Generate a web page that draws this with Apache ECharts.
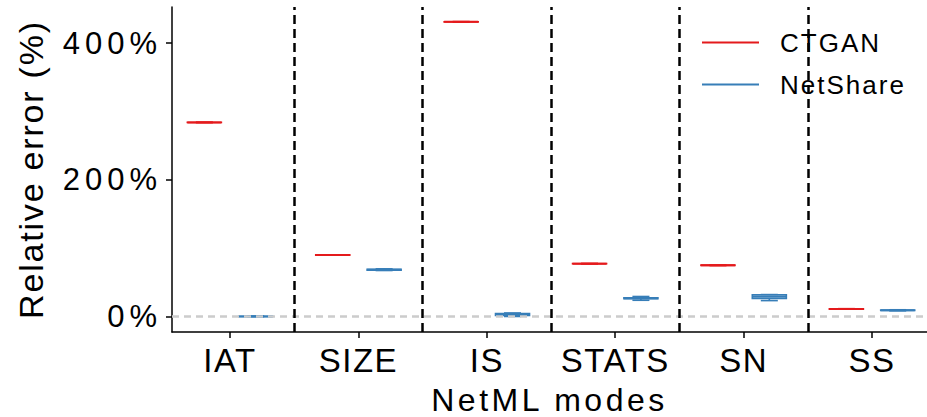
<!DOCTYPE html>
<html>
<head>
<meta charset="utf-8">
<script src="https://cdn.jsdelivr.net/npm/echarts@6/dist/echarts.min.js"></script>
<style>
html,body{margin:0;padding:0;background:#fff;}
#chart{width:927px;height:417px;}
/* wide glyph spacing as in the reference rendering */
#chart text[style*="33px"]{letter-spacing:1.5px;}
#chart text[style*="31px"]{letter-spacing:5px;}
#chart text[style*="32px"]{letter-spacing:3.5px;}
#chart text[style*="34px"]{letter-spacing:1.8px;}
#chart text[style*="26px"]{letter-spacing:2px;}
</style>
</head>
<body>
<div id="chart"></div>
<script>
// ---- data ----
const categories = ['IAT', 'SIZE', 'IS', 'STATS', 'SN', 'SS'];
const seriesNames = ['CTGAN', 'NetShare'];
// [min, Q1, median, Q3, max] of relative error (%) per mode
const ctganBox = [
  [283.6, 283.8, 284.0, 284.2, 284.4],
  [89.9, 90.0, 90.2, 90.4, 90.5],
  [430.6, 430.8, 431.0, 431.2, 431.4],
  [77.1, 77.3, 77.5, 77.7, 77.9],
  [74.7, 74.9, 75.1, 75.3, 75.5],
  [10.9, 11.1, 11.3, 11.5, 11.7]
];
const netshareBox = [
  [0.0, 0.2, 0.4, 0.7, 1.0],
  [67.5, 68.1, 68.7, 69.4, 69.9],
  [0.3, 1.8, 3.0, 4.6, 5.4],
  [24.0, 26.2, 26.8, 27.6, 29.5],
  [23.5, 26.6, 29.0, 31.8, 32.3],
  [8.6, 9.0, 9.4, 9.8, 10.1]
];
const yTicks = [0, 200, 400];
const dividers = [0.5, 1.5, 2.5, 3.5, 4.5];

// ---- style ----
const FONT = '"Liberation Sans", Arial, sans-serif';
const RED = '#E41A1C';
const BLUE = '#377EB8';
const OFFSET = 0.2;
const BOX_W = 0.265;

function toRows(box) {
  return box.map((b, i) => [i].concat(b));
}

function makeRender(offset, color) {
  return function (params, api) {
    const x = api.value(0) + offset;
    const mn = api.value(1), q1 = api.value(2), md = api.value(3), q3 = api.value(4), mx = api.value(5);
    const bw = api.size([BOX_W, 0])[0];
    const pMin = api.coord([x, mn]);
    const pQ1 = api.coord([x, q1]);
    const pMd = api.coord([x, md]);
    const pQ3 = api.coord([x, q3]);
    const pMx = api.coord([x, mx]);
    const cx = pMd[0];
    const lw = 1.6;
    return {
      type: 'group',
      children: [
        { type: 'line', shape: { x1: cx, y1: pQ1[1], x2: cx, y2: pMin[1] }, style: { stroke: color, lineWidth: lw } },
        { type: 'line', shape: { x1: cx, y1: pQ3[1], x2: cx, y2: pMx[1] }, style: { stroke: color, lineWidth: lw } },
        { type: 'line', shape: { x1: cx - bw / 4, y1: pMin[1], x2: cx + bw / 4, y2: pMin[1] }, style: { stroke: color, lineWidth: lw } },
        { type: 'line', shape: { x1: cx - bw / 4, y1: pMx[1], x2: cx + bw / 4, y2: pMx[1] }, style: { stroke: color, lineWidth: lw } },
        { type: 'rect', shape: { x: cx - bw / 2, y: pQ3[1], width: bw, height: pQ1[1] - pQ3[1] },
          style: { fill: 'rgba(255,255,255,0.6)', stroke: color, lineWidth: lw } },
        { type: 'line', shape: { x1: cx - bw / 2, y1: pMd[1], x2: cx + bw / 2, y2: pMd[1] }, style: { stroke: color, lineWidth: 2 } }
      ]
    };
  };
}

const chart = echarts.init(document.getElementById('chart'), null, { renderer: 'svg' });
const axisText = { color: '#000', fontFamily: FONT };

chart.setOption({
  animation: false,
  backgroundColor: '#fff',
  grid: { left: 172, right: 0, top: 7, bottom: 85, outerBoundsMode: 'none', containLabel: false },
  legend: {
    orient: 'vertical',
    left: 702,
    top: 29,
    padding: 0,
    icon: 'rect',
    itemWidth: 57,
    itemHeight: 2,
    itemGap: 15,
    data: seriesNames,
    textStyle: { fontSize: 26, fontFamily: FONT, color: '#000', padding: [0, 0, 0, 16], lineHeight: 27 }
  },
  xAxis: {
    type: 'value',
    min: -0.452,
    max: 5.428,
    splitLine: { show: false },
    axisLine: { onZero: false, lineStyle: { color: '#000', width: 1.5 } },
    axisTick: { customValues: [0, 1, 2, 3, 4, 5], length: 6, lineStyle: { color: '#000', width: 1.5 } },
    axisLabel: Object.assign({ customValues: [0, 1, 2, 3, 4, 5], formatter: v => categories[Math.round(v)], fontSize: 33, margin: 12 }, axisText),
    name: 'NetML modes',
    nameLocation: 'middle',
    nameGap: 56,
    nameTextStyle: Object.assign({ fontSize: 32, lineHeight: 24 }, axisText)
  },
  yAxis: {
    type: 'value',
    min: -22.4,
    max: 452.7,
    splitLine: { show: false },
    axisLine: { show: true, onZero: false, lineStyle: { color: '#000', width: 1.5 } },
    axisTick: { show: true, customValues: yTicks, length: 6, lineStyle: { color: '#000', width: 1.5 } },
    axisLabel: Object.assign({ customValues: yTicks, formatter: v => v + '%', fontSize: 31, margin: 10 }, axisText),
    name: 'Relative error (%)',
    nameLocation: 'middle',
    nameGap: 124,
    nameTextStyle: Object.assign({ fontSize: 34 }, axisText)
  },
  series: [
    {
      type: 'line',
      data: [],
      silent: true,
      markLine: {
        silent: true,
        symbol: ['none', 'none'],
        label: { show: false },
        lineStyle: { color: '#cccccc', width: 2.5, type: [7, 5] },
        data: [{ yAxis: 0 }]
      }
    },
    {
      name: 'CTGAN',
      type: 'custom',
      itemStyle: { color: RED },
      encode: { x: 0, y: [1, 2, 3, 4, 5] },
      data: toRows(ctganBox),
      renderItem: makeRender(-OFFSET, RED)
    },
    {
      name: 'NetShare',
      type: 'custom',
      itemStyle: { color: BLUE },
      encode: { x: 0, y: [1, 2, 3, 4, 5] },
      data: toRows(netshareBox),
      renderItem: makeRender(OFFSET, BLUE)
    },
    {
      type: 'line',
      data: [],
      silent: true,
      z: 10,
      markLine: {
        silent: true,
        z: 10,
        symbol: ['none', 'none'],
        label: { show: false },
        lineStyle: { color: '#000', width: 2.5, type: [9, 5] },
        data: dividers.map(d => ({ xAxis: d }))
      }
    }
  ]
});
</script>
</body>
</html>
